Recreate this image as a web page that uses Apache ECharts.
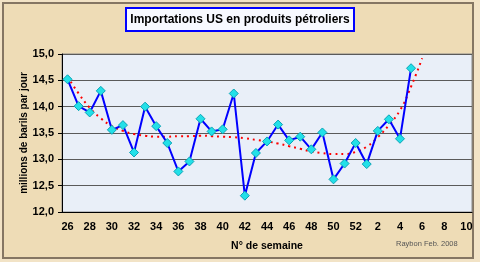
<!DOCTYPE html>
<html><head><meta charset="utf-8">
<script src="https://cdn.jsdelivr.net/npm/echarts@6/dist/echarts.min.js"></script>
<style>html,body{margin:0;padding:0;background:#f2e3c6}#c{width:480px;height:262px}</style>
</head><body><div id="c"></div>
<script>
const weeks = ['26','27','28','29','30','31','32','33','34','35','36','37','38','39','40','41','42','43','44','45','46','47','48','49','50','51','52','1','2','3','4','5','6','7','8','9','10'];
const imports = [14.52,14.01,13.89,14.30,13.56,13.65,13.13,14.00,13.63,13.31,12.77,12.96,13.77,13.53,13.57,14.25,12.31,13.12,13.34,13.66,13.36,13.43,13.19,13.51,12.62,12.92,13.31,12.91,13.54,13.76,13.39,14.73];
const trend = [14.57,14.25,13.98,13.78,13.63,13.54,13.48,13.45,13.43,13.43,13.44,13.44,13.45,13.44,13.43,13.42,13.40,13.37,13.34,13.30,13.25,13.20,13.15,13.12,13.10,13.10,13.14,13.24,13.42,13.65,13.93,14.38,14.92];
const yTicks = [12,12.5,13,13.5,14,14.5,15];

const chart = echarts.init(document.getElementById('c'), null, {renderer:'canvas'});
chart.setOption({
  backgroundColor:'#f2e3c6',
  animation:false,
  textStyle:{fontFamily:'Liberation Sans, Arial, sans-serif'},
  graphic:[
    {type:'rect', z:-10, shape:{x:3,y:3,width:470,height:255}, style:{fill:'#eedcb6', stroke:'#857663', lineWidth:2}},
    {type:'text', left:396, top:240, style:{text:'Raybon Feb. 2008', fontSize:7.5, fill:'#555', fontFamily:'Liberation Sans, Arial, sans-serif'}}
  ],
  title:{
    text:'Importations US en produits pétroliers',
    left:'center', top:8,
    padding:[6,5,5,5],
    borderColor:'#0000ff', borderWidth:2, backgroundColor:'#f7f9ff',
    textStyle:{fontSize:12, fontWeight:'bold', color:'#000', fontFamily:'Liberation Sans, Arial, sans-serif'}
  },
  grid:{left:62, right:8, top:54, bottom:50, show:true, backgroundColor:'#e9eff8', borderColor:'#8a8a8a', borderWidth:1},
  xAxis:{
    type:'category', data:weeks, boundaryGap:true,
    name:'N° de semaine', nameLocation:'middle', nameGap:29, nameMoveOverlap:false,
    nameTextStyle:{fontSize:10.5, fontWeight:'bold', color:'#000'},
    axisLine:{lineStyle:{color:'#000', width:1}},
    axisTick:{interval:0, length:4, lineStyle:{color:'#000'}},
    axisLabel:{interval:1, margin:9, fontSize:11, fontWeight:'bold', color:'#000'},
    splitLine:{show:false}
  },
  yAxis:{
    type:'value', min:yTicks[0], max:yTicks[yTicks.length-1], interval:0.5,
    name:'millions de barils par jour', nameLocation:'middle', nameGap:33, nameMoveOverlap:false,
    nameTextStyle:{fontSize:10, fontWeight:'bold', color:'#000'},
    axisLine:{show:true, lineStyle:{color:'#000'}},
    axisTick:{show:true, length:4, lineStyle:{color:'#000'}},
    axisLabel:{margin:8, fontSize:11, fontWeight:'bold', color:'#000', formatter:v=>v.toFixed(1).replace('.',',')},
    splitLine:{lineStyle:{color:'#5a5a5a', width:1}}
  },
  series:[
    {type:'line', data:trend, symbol:'none', smooth:true, z:2,
     lineStyle:{color:'#ff0000', width:2, type:[2,4]}},
    {type:'line', data:imports, symbol:'diamond', symbolSize:9, showAllSymbol:true, z:3,
     lineStyle:{color:'#0000ff', width:2},
     itemStyle:{color:'#22e0e8', borderColor:'#0aa3b5', borderWidth:1}}
  ]
});
</script></body></html>
